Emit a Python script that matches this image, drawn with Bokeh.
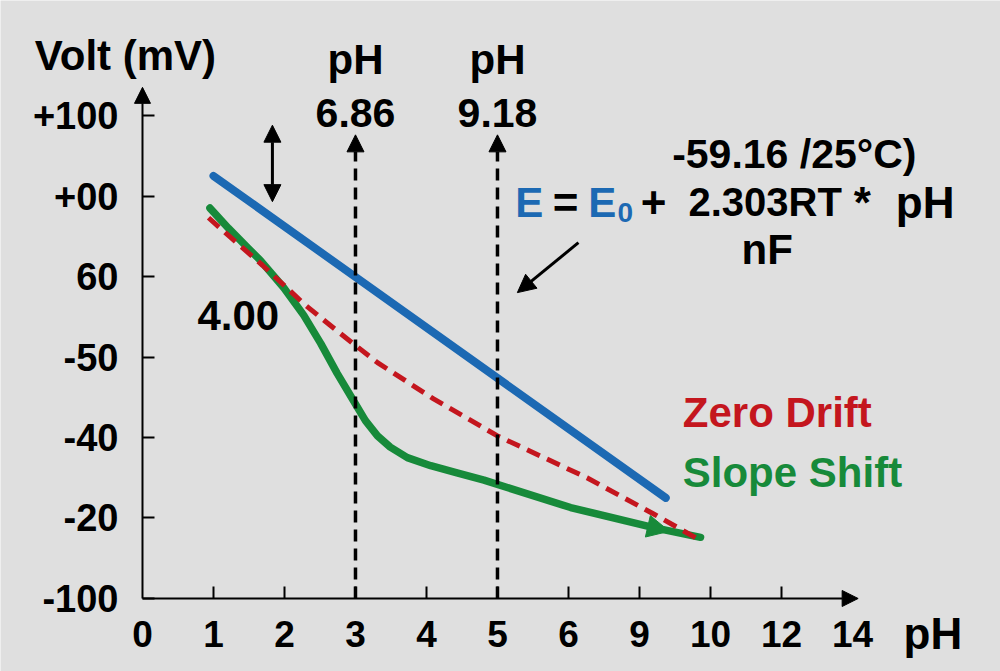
from bokeh.plotting import figure
from bokeh.models import Range1d, FixedTicker, Arrow, NormalHead, Label, LinearAxis
from bokeh.embed import file_html
from bokeh.resources import INLINE

# Axis categories (evenly spaced positions on both axes)
x_tick_labels = ["0", "1", "2", "3", "4", "5", "6", "9", "10", "12", "14"]
y_tick_labels = ["-100", "-20", "-40", "-50", "60", "+00", "+100"]

# Ideal electrode response (straight line)
ideal_x = [1.0, 7.37]
ideal_y = [5.25, 1.25]

# Zero drift response (dashed)
zero_drift_x = [0.93, 1.21, 1.69, 2.30, 2.79, 3.31, 4.10, 5.0, 6.26, 7.2, 7.86]
zero_drift_y = [4.73, 4.51, 4.14, 3.64, 3.29, 2.93, 2.48, 2.02, 1.50, 1.05, 0.72]

# Slope shift response
slope_shift_x = [0.95, 1.21, 1.49, 1.66, 1.99, 2.27, 2.51, 2.74, 2.97, 3.14, 3.31, 3.49,
                 3.73, 4.06, 4.43, 4.81, 6.03, 7.2, 7.86]
slope_shift_y = [4.85, 4.60, 4.35, 4.20, 3.86, 3.52, 3.17, 2.80, 2.46, 2.21, 2.02, 1.88,
                 1.75, 1.65, 1.56, 1.47, 1.13, 0.88, 0.76]

# Buffer reference points
buffer_pos = [3, 5]
buffer_names = ["6.86", "9.18"]

BG = "#dfdfdf"
BLUE = "#1c69b3"
GREEN = "#178a3a"
RED = "#c4161e"
FONT = "Liberation Sans"

p = figure(width=1000, height=671, output_backend="svg", toolbar_location=None,
           x_range=Range1d(-2.0, 12.085), y_range=Range1d(-0.907, 7.429),
           x_axis_location=None, y_axis_location=None,
           min_border=0, min_border_left=0, min_border_right=0,
           min_border_top=0, min_border_bottom=0)
p.background_fill_color = BG
p.border_fill_color = BG
p.outline_line_color = None
p.xgrid.visible = False
p.ygrid.visible = False

# y axis, pinned at x = 0
ya = LinearAxis(fixed_location=0)
ya.ticker = FixedTicker(ticks=list(range(len(y_tick_labels))))
ya.major_label_overrides = {i: s for i, s in enumerate(y_tick_labels)}
ya.axis_line_color = None
ya.major_tick_in = 12
ya.major_tick_out = 0
ya.major_tick_line_width = 2
ya.major_tick_line_color = "black"
ya.minor_tick_line_color = None
ya.major_label_standoff = 24
ya.major_label_text_font = FONT
ya.major_label_text_font_style = "bold"
ya.major_label_text_font_size = "38px"
ya.major_label_text_color = "black"
p.add_layout(ya, "left")

# x axis, pinned at y = 0
xa = LinearAxis(fixed_location=0)
xa.ticker = FixedTicker(ticks=list(range(len(x_tick_labels))),
                        minor_ticks=list(range(1, len(x_tick_labels) - 1)))
xa.major_label_overrides = {i: s for i, s in enumerate(x_tick_labels)}
xa.axis_line_color = None
xa.major_tick_in = 0
xa.major_tick_out = 0
xa.minor_tick_in = 12
xa.minor_tick_out = 0
xa.minor_tick_line_width = 2
xa.minor_tick_line_color = "black"
xa.major_label_standoff = 23
xa.major_label_text_font = FONT
xa.major_label_text_font_style = "bold"
xa.major_label_text_font_size = "37px"
xa.major_label_text_color = "black"
p.add_layout(xa, "below")

# Axis lines with arrowheads
p.add_layout(Arrow(x_start=0, y_start=0, x_end=0, y_end=6.35, line_width=2, line_color="black",
                   end=NormalHead(size=16, fill_color="black", line_color="black")))
p.add_layout(Arrow(x_start=0, y_start=0, x_end=10.08, y_end=0, line_width=2, line_color="black",
                   end=NormalHead(size=16, fill_color="black", line_color="black")))

# Buffer markers: dashed verticals with arrow tips
for bx in buffer_pos:
    p.add_layout(Arrow(x_start=bx, y_start=0, x_end=bx, y_end=5.76, line_width=3.5,
                       line_color="black", line_dash="12 7",
                       end=NormalHead(size=17, fill_color="black", line_color="black")))

# Curves
p.line(ideal_x, ideal_y, line_color=BLUE, line_width=8, line_cap="round")
p.line(slope_shift_x, slope_shift_y, line_color=GREEN, line_width=7.5,
       line_cap="round", line_join="round")
p.add_layout(Arrow(x_start=slope_shift_x[-2], y_start=slope_shift_y[-2], x_end=7.42, y_end=0.835,
                   line_alpha=0, end=NormalHead(size=22, fill_color=GREEN, line_color=GREEN)))
p.line(zero_drift_x, zero_drift_y, line_color=RED, line_width=5, line_dash="14 8",
       line_join="round")

# Offset indicator (double arrow)
p.add_layout(Arrow(x_start=1.83, y_start=4.93, x_end=1.83, y_end=5.88, line_width=3, line_color="black",
                   start=NormalHead(size=17, fill_color="black", line_color="black"),
                   end=NormalHead(size=17, fill_color="black", line_color="black")))

# Pointer from the equation
p.add_layout(Arrow(x_start=6.14, y_start=4.42, x_end=5.28, y_end=3.80, line_width=3, line_color="black",
                   end=NormalHead(size=18, fill_color="black", line_color="black")))


def lab(x, y, text, size, color="black", align="left"):
    p.add_layout(Label(x=x, y=y, text=text, text_font=FONT, text_font_style="bold",
                       text_font_size=size, text_color=color, text_align=align,
                       text_baseline="alphabetic"))


lab(-0.24, 6.75, "Volt (mV)", "42px", align="center")
for bx, name in zip(buffer_pos, buffer_names):
    lab(bx, 6.69, "pH", "42px", align="center")
    lab(bx, 6.03, name, "41px", align="center")
lab(1.35, 3.52, "4.00", "42px", align="center")

lab(7.46, 5.52, "-59.16 /25\u00b0C)", "41px")
lab(5.25, 4.92, "E", "42px", color=BLUE)
lab(5.96, 4.92, "=", "44px", align="center")
lab(6.28, 4.92, "E", "42px", color=BLUE)
lab(6.69, 4.79, "0", "28px", color=BLUE)
lab(7.20, 4.92, "+", "44px", align="center")
lab(7.69, 4.92, "2.303RT", "40px")
lab(10.14, 4.92, "*", "44px", align="center")
lab(10.61, 4.92, "pH", "44px")
lab(8.80, 4.33, "nF", "42px", align="center")

lab(7.61, 2.31, "Zero Drift", "42px", color=RED)
lab(7.61, 1.56, "Slope Shift", "42px", color=GREEN)
lab(10.72, -0.44, "pH", "44px")

open("out.html", "w").write(file_html(p, INLINE))
